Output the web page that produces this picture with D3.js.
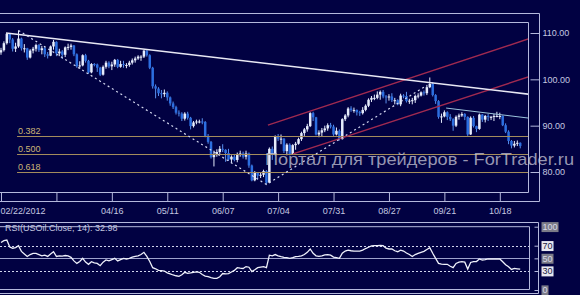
<!DOCTYPE html>
<html>
<head>
<meta charset="utf-8">
<script src="https://cdn.jsdelivr.net/npm/d3@7"></script>
<style>
  html, body { margin: 0; padding: 0; background: #010142; }
  svg { display: block; }
  text { font-family: "Liberation Sans", Arial, sans-serif; }
</style>
</head>
<body>
<svg id="chart" width="580" height="295"></svg>
<script>
// USOil daily candles, 02/22/2012 .. 10/29/2012 (one entry per bar)
const firstOpen = 105.8;
const closes = [
  106.3, 107.8, 109.8, 108.6, 106.6, 107.1, 108.8, 106.7, 106.7, 104.7,
  106.2, 106.6, 107.4, 106.3, 106.7, 105.4, 105.1, 107.1, 108.1, 105.6,
  106.0, 105.3, 106.9, 107.0, 107.3, 105.4, 102.8, 103.0, 105.2, 104.0,
  101.5, 103.3, 103.2, 102.5, 101.0, 102.7, 103.6, 102.8, 103.2, 104.2,
  102.7, 103.3, 103.1, 103.1, 103.6, 104.1, 104.5, 104.9, 104.9, 106.2,
  105.2, 102.5, 98.5, 98.0, 97.0, 96.8, 97.1, 96.1, 94.8, 94.0,
  92.8, 92.6, 91.5, 92.6, 91.7, 89.9, 90.7, 90.9, 90.9, 90.8,
  87.8, 86.5, 83.2, 83.9, 84.3, 85.0, 84.8, 84.1, 82.7, 83.3,
  82.6, 83.9, 84.0, 83.3, 84.0, 81.4, 78.2, 79.8, 79.2, 79.4,
  80.2, 77.7, 85.0, 83.8, 87.7, 87.2, 87.2, 84.5, 85.9, 83.9,
  85.8, 86.1, 87.1, 88.4, 89.2, 89.9, 92.7, 91.8, 88.1, 88.5,
  89.0, 89.4, 90.1, 89.8, 88.1, 88.9, 87.1, 91.4, 92.2, 93.7,
  93.4, 93.4, 92.9, 92.7, 93.4, 94.3, 95.6, 96.0, 96.0, 96.7,
  97.3, 96.3, 96.1, 96.3, 95.5, 95.5, 94.6, 96.5, 96.4, 95.3,
  95.4, 95.5, 96.4, 96.5, 97.2, 97.0, 98.3, 99.0, 96.6, 95.3,
  91.9, 92.0, 92.9, 91.9, 91.4, 90.0, 91.9, 92.2, 92.5, 91.9,
  88.1, 91.7, 89.9, 89.3, 92.4, 91.3, 92.1, 91.9, 91.9, 92.1,
  92.1, 92.1, 90.1, 88.7, 86.7, 85.7, 86.1, 86.3, 85.6
];
const highs = [
  106.8, 108.2, 110.0, 110.0, 108.9, 107.9, 110.55, 109.0, 107.6, 106.8,
  106.5, 107.0, 107.7, 107.6, 107.2, 107.0, 105.9, 107.3, 108.5, 108.2,
  106.6, 106.3, 107.1, 107.7, 107.7, 107.4, 105.6, 103.9, 105.4, 105.5,
  104.2, 103.5, 103.5, 103.4, 102.7, 103.0, 104.0, 103.9, 103.8, 104.4,
  104.4, 104.0, 104.0, 103.5, 104.0, 104.5, 104.9, 105.2, 105.2, 106.3,
  106.4, 105.4, 102.7, 98.9, 98.3, 97.7, 97.8, 97.4, 96.3, 95.2,
  94.3, 93.3, 92.9, 92.9, 93.0, 91.9, 91.0, 91.3, 91.3, 91.6,
  91.0, 88.2, 86.7, 84.6, 84.9, 85.6, 86.0, 84.9, 85.0, 83.6,
  83.9, 84.2, 84.6, 84.4, 84.6, 84.2, 81.6, 80.2, 80.0, 80.0,
  80.5, 80.4, 85.3, 85.5, 87.9, 88.2, 88.1, 87.3, 86.2, 86.2,
  86.0, 86.5, 87.4, 88.7, 89.5, 90.4, 92.9, 93.0, 91.9, 89.0,
  89.5, 90.0, 90.5, 90.6, 90.2, 89.6, 89.2, 91.6, 92.5, 94.0,
  94.2, 93.9, 93.5, 93.2, 94.0, 94.6, 95.9, 96.4, 96.7, 97.4,
  97.6, 97.7, 96.6, 96.8, 97.0, 96.0, 95.7, 96.9, 96.8, 97.3,
  95.8, 96.0, 96.7, 97.0, 97.4, 97.6, 98.8, 100.4, 99.4, 96.8,
  95.5, 92.6, 93.3, 93.1, 92.5, 91.6, 92.2, 92.6, 92.9, 92.7,
  92.0, 92.0, 92.1, 90.0, 92.6, 92.5, 92.3, 92.5, 92.1, 92.5,
  93.0, 92.8, 92.2, 90.5, 89.0, 86.9, 86.7, 86.8, 86.4
];
const lows = [
  105.3, 106.0, 107.5, 107.8, 106.0, 105.9, 106.8, 106.2, 105.8, 104.2,
  104.5, 105.6, 106.0, 105.9, 105.4, 104.8, 104.5, 105.0, 106.4, 105.0,
  105.0, 104.4, 104.8, 106.3, 106.4, 105.0, 102.5, 102.3, 102.8, 103.6,
  101.2, 101.3, 102.8, 101.6, 100.7, 100.8, 102.3, 102.4, 102.0, 102.7,
  102.4, 102.5, 102.5, 102.4, 102.7, 103.2, 103.6, 104.2, 104.0, 104.6,
  104.9, 102.2, 98.0, 95.9, 96.4, 95.9, 96.2, 95.4, 94.3, 93.6,
  92.4, 92.0, 91.0, 91.1, 91.3, 89.2, 89.6, 90.3, 90.5, 90.3,
  87.5, 86.1, 82.9, 81.2, 83.3, 83.8, 84.3, 82.2, 82.4, 81.9,
  82.3, 82.1, 83.3, 82.9, 82.7, 80.9, 78.0, 78.0, 78.4, 78.7,
  78.9, 77.3, 77.6, 82.6, 83.6, 86.7, 86.0, 84.1, 83.6, 83.6,
  83.7, 84.8, 85.9, 86.7, 87.8, 88.7, 89.7, 91.0, 87.9, 87.5,
  87.7, 88.6, 88.9, 89.4, 87.8, 87.9, 86.8, 87.0, 91.0, 91.8,
  93.0, 92.8, 92.2, 92.1, 92.4, 93.1, 94.0, 95.1, 95.5, 95.7,
  95.6, 95.9, 94.8, 95.4, 95.1, 94.6, 94.4, 94.2, 95.9, 95.0,
  94.7, 94.6, 94.9, 95.9, 96.3, 96.5, 96.6, 98.1, 96.3, 94.7,
  91.5, 90.6, 91.8, 91.2, 91.0, 88.9, 89.7, 91.3, 91.9, 91.2,
  87.8, 88.0, 89.6, 88.6, 89.1, 90.8, 90.7, 91.0, 91.2, 91.0,
  91.8, 91.4, 89.9, 88.4, 86.0, 85.1, 85.3, 85.6, 85.1
];
// RSI(14) per bar
const rsiValues = [
  75, 78, 79, 68, 66, 67, 70, 61, 57, 53,
  56, 58, 58, 56, 54, 55, 53, 57, 60.5, 53,
  54, 53.5, 54.5, 54, 51.6, 46, 42, 45, 50, 44,
  40.6, 44.7, 43, 42, 38.4, 44, 47.4, 46, 48, 50,
  46, 48, 50, 49, 50, 52, 53, 54, 56, 59.5,
  53, 45, 35.3, 33.5, 31, 30.5, 30, 27, 25.5, 23.7,
  22.5, 21.5, 24, 28, 26.4, 27, 28, 28.5, 28, 24.5,
  22, 21, 19.5, 18.5, 18.5, 21, 26, 25.5, 26, 28.5,
  31, 35.3, 34.5, 34, 37, 36, 29, 32, 35.3, 36,
  36.8, 35.3, 55, 54, 56, 54, 52.6, 51.5, 51, 50,
  51, 52.6, 53, 54, 56, 59.5, 64.8, 58, 54, 53,
  54, 55.5, 56, 55, 52, 51, 50, 58, 61.5, 63,
  62, 61.5, 61.5, 61.5, 63, 65.5, 67.5, 69.5, 70, 70,
  70.5, 70, 66, 64.8, 64.8, 62, 60.5, 63, 61.5, 58.5,
  56, 53, 56, 58, 59.5, 61, 64, 66.8, 58, 50,
  42, 41, 40.6, 40.6, 37.5, 35.3, 42, 44, 44.7, 44,
  33, 43.5, 44.7, 45, 49, 47.4, 48, 49, 49, 49,
  49, 49, 44.7, 40, 36.8, 32.5, 34, 33.5, 32.98
];
const rsiLabel = "RSI(USOil.Close, 14): 32.98";

// one date label every 19 bars
const xTickLabels = ["02/22/2012", "", "04/16", "05/11", "06/07", "07/04", "07/31", "08/27", "09/21", "10/18"];
const barsPerLabel = 19;
const priceTicks = [80, 90, 100, 110];
const rsiTicks = [100, 70, 50, 30, 0];

const fibRatios = ["0.382", "0.500", "0.618"];
const fibPrices = [87.8, 83.9, 79.9];
const fibStartBar = 5.5;

// drawn lines: [barA, priceA, barB, priceB]
const resistanceLine = [1.7, 110.0, 180.7, 96.8];
const channelUpper = [91.5, 90.1, 180.7, 108.7];
const channelLower = [100.1, 83.9, 180.7, 100.5];
const shortLine = [152.6, 93.8, 180.7, 91.65];
const zigzag = [[6, 110.55], [91, 77.3], [145, 98.3]];

const watermark = "Портал для трейдеров - ForTrader.ru";

// ---- layout
const plot = { left: 0, right: 528, top: 22, bottom: 192 };
const frameRight = 539, frameTop = 13, axisY = 201;
const rsiBox = { left: 0, right: 529, top: 226.7, bottom: 289 };

const bg = "#010142", frameColor = "#b4b8dc", textColor = "#c4c8e0";

const svg = d3.select("#chart");
svg.append("rect").attr("width", 580).attr("height", 295).attr("fill", bg);

const x = d3.scaleLinear().domain([0, 171]).range([1, 499.8]);
const y = d3.scaleLinear().domain([80, 110]).range([172, 33]);
const yr = d3.scaleLinear().domain([0, 100]).range([290, 226.7]);

const bars = closes.map((c, i) => ({
  i: i,
  o: i === 0 ? firstOpen : closes[i - 1],
  c: c,
  h: highs[i],
  l: lows[i]
}));

svg.append("clipPath").attr("id", "clipMain")
  .append("rect")
  .attr("x", plot.left).attr("y", plot.top)
  .attr("width", plot.right - plot.left).attr("height", plot.bottom - plot.top);

// frames of the price panel
const frames = svg.append("g").attr("fill", "none").attr("stroke", frameColor).attr("stroke-width", 1);
frames.append("path").attr("d", `M0,${frameTop + 0.5}H${frameRight + 0.5}V${axisY + 0.5}`);
frames.append("path").attr("d", `M0,${plot.top + 0.5}H${plot.right + 0.5}V${plot.bottom + 0.5}H0`);

const main = svg.append("g").attr("clip-path", "url(#clipMain)");

// candles
const upColor = "#e6ecfc", downColor = "#2c6ee0";
const candle = main.append("g").selectAll("g").data(bars).join("g");
candle.append("line")
  .attr("x1", d => x(d.i)).attr("x2", d => x(d.i))
  .attr("y1", d => y(d.h)).attr("y2", d => y(d.l))
  .attr("stroke", d => d.c >= d.o ? upColor : "#5a90ee")
  .attr("stroke-width", 1);
candle.append("rect")
  .attr("x", d => x(d.i) - 1.25)
  .attr("width", 2.5)
  .attr("y", d => y(Math.max(d.o, d.c)))
  .attr("height", d => Math.max(1, Math.abs(y(d.o) - y(d.c))))
  .attr("fill", d => d.c >= d.o ? upColor : downColor);

// fibonacci levels
const fib = main.append("g");
fib.selectAll("line").data(fibPrices).join("line")
  .attr("x1", x(fibStartBar)).attr("x2", plot.right)
  .attr("y1", d => Math.round(y(d)) + 0.5).attr("y2", d => Math.round(y(d)) + 0.5)
  .attr("stroke", "#a48c5c").attr("stroke-width", 1.2);
fib.selectAll("text").data(fibPrices).join("text")
  .attr("x", x(fibStartBar) + 1).attr("y", d => y(d) - 2)
  .attr("fill", "#cbb676").attr("font-size", 9)
  .text((d, i) => fibRatios[i]);

// trend lines
const seg = (g, l, color, w, dash) => g.append("line")
  .attr("x1", x(l[0])).attr("y1", y(l[1]))
  .attr("x2", x(l[2])).attr("y2", y(l[3]))
  .attr("stroke", color).attr("stroke-width", w)
  .attr("stroke-dasharray", dash || null);

seg(main, channelUpper, "#a02a50", 1.4);
seg(main, channelLower, "#a02a50", 1.4);
seg(main, resistanceLine, "#e8e8f4", 1.6);
seg(main, shortLine, "#9cc4dc", 1);
main.append("path")
  .attr("d", d3.line().x(d => x(d[0])).y(d => y(d[1]))(zigzag))
  .attr("fill", "none").attr("stroke", "#d4d8f0")
  .attr("stroke-width", 1.2).attr("stroke-dasharray", "2,3");

// price axis (right side)
const yAxis = d3.axisRight(y).tickValues(priceTicks).tickSize(-9).tickPadding(3)
  .tickFormat(d3.format(".2f"));
const yMinor = d3.axisRight(y).tickValues(d3.range(78, 112, 2)).tickSize(-3).tickFormat("");
const yg = svg.append("g").attr("transform", `translate(${frameRight + 0.5},0)`);
yg.call(yMinor);
yg.call(yAxis);
yg.selectAll(".domain").remove();
yg.selectAll("line").attr("stroke", frameColor);
yg.selectAll("text").attr("fill", textColor).attr("font-size", 9);
yg.selectAll(".tick").filter(d => d < 79 || d > 111).remove();

// date axis
const xAxis = d3.axisBottom(x)
  .tickValues(xTickLabels.map((d, i) => i * barsPerLabel))
  .tickSize(-9).tickPadding(6)
  .tickFormat((d, i) => xTickLabels[i]);
const xMinor = d3.axisBottom(x).tickValues(d3.range(0, 181, 19 / 10)).tickSize(-4).tickFormat("");
const xg = svg.append("g").attr("transform", `translate(0,${axisY + 0.5})`);
xg.call(xMinor);
xg.call(xAxis);
xg.selectAll(".domain").attr("d", `M0,0H${frameRight + 0.5}`).attr("stroke", frameColor);
xg.selectAll("line").attr("stroke", frameColor);
xg.selectAll("text").attr("fill", textColor).attr("font-size", 9);
xg.selectAll("text").filter(d => d === 0).attr("text-anchor", "start").attr("x", -1);

// watermark
svg.append("text")
  .attr("x", 265).attr("y", 165)
  .attr("font-family", "DejaVu Sans, sans-serif")
  .attr("font-size", 17)
  .attr("textLength", 309).attr("lengthAdjust", "spacingAndGlyphs")
  .attr("fill", "#c8c8d8").attr("fill-opacity", 0.75)
  .text(watermark);

// ---- RSI panel
const rf = svg.append("g").attr("fill", "none").attr("stroke", frameColor);
rf.append("path").attr("d", `M0,222.5H538.5V293.5H0`);
rf.append("path").attr("d", `M0,${rsiBox.top}H${rsiBox.right + 0.5}V${rsiBox.bottom + 0.5}H0`);

svg.append("text").attr("x", 5).attr("y", 231)
  .attr("fill", textColor).attr("font-size", 9).text(rsiLabel);

const rg = svg.append("g");
rg.selectAll("line.lvl").data([70, 50, 30]).join("line").attr("class", "lvl")
  .attr("x1", 0).attr("x2", rsiBox.right)
  .attr("y1", d => Math.round(yr(d)) + 0.5).attr("y2", d => Math.round(yr(d)) + 0.5)
  .attr("stroke", d => d === 50 ? "#9ea2cc" : "#d0d4ec")
  .attr("stroke-dasharray", d => d === 50 ? null : "2,2");
rg.append("path")
  .attr("d", d3.line().x((d, i) => x(i)).y(d => yr(d))(rsiValues))
  .attr("fill", "none").attr("stroke", "#eef0fa").attr("stroke-width", 1.3);

// RSI axis
const rAxis = d3.axisRight(yr).tickValues(rsiTicks).tickSize(-4).tickPadding(4).tickFormat(d3.format("d"));
const rMinor = d3.axisRight(yr).tickValues(d3.range(0, 101, 10)).tickSize(-2).tickFormat("");
const ra = svg.append("g").attr("transform", "translate(538.5,0)");
ra.call(rMinor);
ra.call(rAxis);
ra.selectAll(".domain").remove();
ra.selectAll("line").attr("stroke", frameColor);
ra.selectAll(".tick").each(function (d) {
  const t = d3.select(this).select("text");
  const light = d === 70 || d === 30;
  t.attr("fill", light ? "#1a1a40" : "#d8d8e8").attr("font-size", 9);
  const bb = t.node().getBBox();
  d3.select(this).insert("rect", "text")
    .attr("x", bb.x - 1).attr("y", bb.y)
    .attr("width", bb.width + 2).attr("height", bb.height)
    .attr("fill", light ? "#e8e8f0" : "#7c7c88");
});
</script>
</body>
</html>
